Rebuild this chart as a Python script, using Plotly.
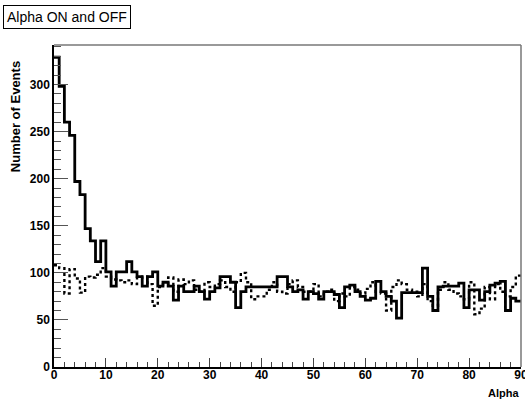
import plotly.graph_objects as go

alpha_on = [329, 298, 260, 246, 197, 183, 147, 134, 112, 134,
            101, 86, 101, 101, 112, 101, 96, 86, 96, 101,
            86, 90, 86, 71, 86, 80, 80, 86, 80, 72,
            80, 84, 96, 96, 90, 63, 80, 85, 85, 85,
            85, 85, 85, 96, 96, 85, 80, 82, 72, 80,
            78, 72, 80, 80, 77, 63, 85, 87, 80, 75,
            71, 73, 91, 80, 75, 70, 52, 79, 79, 79,
            79, 105, 75, 60, 85, 86, 86, 86, 89, 63,
            82, 82, 71, 80, 87, 89, 91, 60, 73, 70]

alpha_off = [108, 105, 78, 104, 94, 79, 96, 95, 98, 105,
             96, 93, 92, 90, 92, 88, 95, 96, 88, 65,
             85, 88, 95, 80, 93, 88, 92, 82, 80, 90,
             85, 88, 92, 85, 80, 90, 100, 90, 72, 75,
             75, 82, 90, 80, 78, 88, 92, 85, 80, 80,
             88, 75, 80, 82, 70, 78, 75, 85, 82, 78,
             83, 90, 80, 78, 60, 85, 92, 88, 82, 80,
             75, 88, 70, 65, 82, 90, 82, 78, 75, 72,
             90, 56, 62, 85, 72, 88, 80, 75, 85, 97]

x_ticks = [0, 10, 20, 30, 40, 50, 60, 70, 80, 90]
y_ticks = [0, 50, 100, 150, 200, 250, 300]

edges = list(range(len(alpha_on) + 1))

fig = go.Figure()
fig.add_trace(go.Scatter(x=edges, y=alpha_off + [alpha_off[-1]], mode="lines",
                         line=dict(shape="hv", color="black", width=2.4, dash="3px,3px"),
                         showlegend=False))
fig.add_trace(go.Scatter(x=edges, y=alpha_on + [alpha_on[-1]], mode="lines",
                         line=dict(shape="hv", color="black", width=2.8),
                         showlegend=False))

font_main = "Liberation Sans"

fig.update_layout(
    width=525, height=401,
    margin=dict(l=54, r=4, t=45, b=34),
    paper_bgcolor="white", plot_bgcolor="white",
    xaxis=dict(range=[0, 90], tickvals=x_ticks, ticks="inside", ticklen=9,
               tickcolor="#444", tickwidth=1, showgrid=False, zeroline=False,
               showline=True, linecolor="black", linewidth=1.5, automargin=False,
               ticklabelstandoff=-4, ticklabeloverflow="allow",
               tickfont=dict(family=font_main, size=12, color="black", weight="bold"),
               minor=dict(dtick=2, ticks="inside", ticklen=5, tickcolor="#444", tickwidth=1)),
    yaxis=dict(range=[0, 342], tickvals=y_ticks, ticks="inside", ticklen=14,
               tickcolor="#555", tickwidth=1, showgrid=False, zeroline=False,
               showline=True, linecolor="black", linewidth=1.5, automargin=False,
               tickfont=dict(family=font_main, size=12, color="black", weight="bold"),
               minor=dict(dtick=10, ticks="inside", ticklen=7, tickcolor="#555", tickwidth=1)),
    shapes=[
        dict(type="line", xref="paper", yref="paper", x0=0, x1=1, y0=1, y1=1,
             line=dict(color="#777", width=1.5)),
        dict(type="line", xref="paper", yref="paper", x0=1, x1=1, y0=0, y1=1,
             line=dict(color="#777", width=1.5)),
    ],
    annotations=[
        dict(text="Alpha ON and OFF", xref="paper", yref="paper",
             x=-0.109, y=1.124, xanchor="left", yanchor="top", showarrow=False,
             font=dict(family=font_main, size=14, color="black"),
             bordercolor="black", borderwidth=1, borderpad=3, bgcolor="white"),
        dict(text="Number of Events", xref="paper", yref="paper",
             x=-0.0835, y=0.776, xanchor="center", yanchor="middle", textangle=-90,
             showarrow=False, font=dict(family=font_main, size=13, color="black", weight="bold")),
        dict(text="Alpha", xref="paper", yref="paper",
             x=1.0, y=-0.081, xanchor="right", yanchor="middle", showarrow=False,
             font=dict(family=font_main, size=11, color="black", weight="bold")),
    ],
)

fig.write_html("out.html", config={"displayModeBar": False},
               post_script="document.body.style.margin='0';")
